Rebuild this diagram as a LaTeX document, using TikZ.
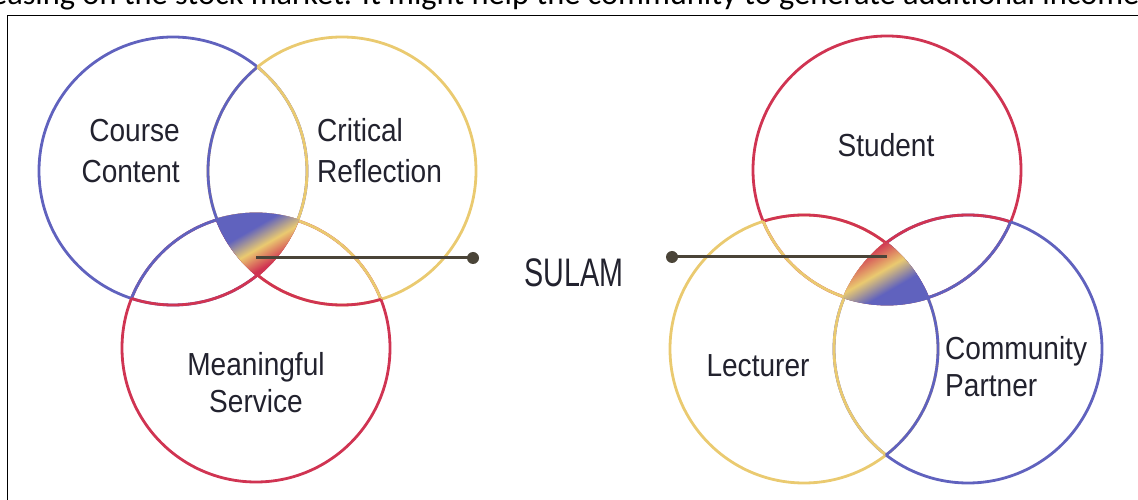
\documentclass[tikz,border=0pt]{standalone}
\usepackage{fontspec}
\newfontfamily\labelfont[FakeStretch=0.88]{Liberation Sans}
\newfontfamily\sulamfont[FakeStretch=0.72]{Liberation Sans}
\newfontfamily\pagefont{Carlito}
\definecolor{venblue}{RGB}{96,98,190}
\definecolor{venyellow}{RGB}{234,202,112}
\definecolor{venred}{RGB}{208,52,82}
\definecolor{venink}{RGB}{34,34,46}
\definecolor{linkgray}{RGB}{74,68,56}
\pgfdeclarehorizontalshading{leftcore}{100bp}{color(0bp)=(venblue); color(42bp)=(venblue); color(53bp)=(venyellow); color(64bp)=(venred); color(100bp)=(venred)}
\pgfdeclarehorizontalshading{rightcore}{100bp}{color(0bp)=(venred); color(36bp)=(venred); color(50bp)=(venyellow); color(62bp)=(venblue); color(100bp)=(venblue)}
\newcommand{\ringr}{134bp}
\newcommand{\corer}{135.4bp}

\begin{document}
\begin{tikzpicture}[x=1bp,y=-1bp,
    ring/.style={line width=2.8bp},
    venlabel/.style={font=\labelfont\fontsize{32}{41}\selectfont, text=venink, inner sep=0pt},
    venlabellow/.style={venlabel, font=\labelfont\fontsize{32}{37}\selectfont},
    coredot/.style={circle, fill=linkgray, minimum size=12bp, inner sep=0pt},
    corelink/.style={draw=linkgray, line width=3bp}]
  \useasboundingbox (0,0) rectangle (1138,500);
  \clip (0,0) rectangle (1138,500);

  % Page
  \node[font=\pagefont\fontsize{32.5}{36}\selectfont, anchor=base west, inner sep=0pt] (pageline) at (-9,5) {easing on the stock market. It might help the community to generate additional income};
  \draw[line width=1.5bp] (7.5,520) -- (7.5,15.5) -- (1160,15.5);

  % Circles
  \coordinate (course) at (173,171);
  \coordinate (reflection) at (342,171);
  \coordinate (service) at (256,348);
  \coordinate (student) at (887,170);
  \coordinate (lecturer) at (804,349);
  \coordinate (partner) at (968,349);

  \draw[ring, venblue] (course) circle[radius=\ringr];
  \draw[ring, venyellow] (reflection) circle[radius=\ringr];
  \draw[ring, venred] (service) circle[radius=\ringr];
  \draw[ring, venred] (student) circle[radius=\ringr];
  \draw[ring, venyellow] (lecturer) circle[radius=\ringr];
  \draw[ring, venblue] (partner) circle[radius=\ringr];

  % an arc inside another ring takes that ring's colour
  \foreach \ringin/\ringcol/\ringa/\ringb in {course/venblue/reflection/service,
      reflection/venyellow/course/service, service/venred/course/reflection,
      student/venred/lecturer/partner, lecturer/venyellow/student/partner,
      partner/venblue/student/lecturer} {
    \begin{scope}
      \clip (\ringin) circle[radius=\ringr];
      \draw[ring, \ringcol] (\ringa) circle[radius=\ringr] (\ringb) circle[radius=\ringr];
    \end{scope}
  }

  % Cores
  \begin{scope}
    \clip (course) circle[radius=\corer];
    \clip (reflection) circle[radius=\corer];
    \clip (service) circle[radius=\corer];
    \shade[shading=leftcore, shading angle=-60] (208,200) rectangle (304,286);
  \end{scope}
  \begin{scope}
    \clip (student) circle[radius=\corer];
    \clip (lecturer) circle[radius=\corer];
    \clip (partner) circle[radius=\corer];
    \shade[shading=rightcore, shading angle=-60] (838,228) rectangle (936,308);
  \end{scope}

  % Nodes
  \node[venlabel, align=right, anchor=east] (content) at (180,151) {Course\\Content};
  \node[venlabel, align=left, anchor=west] (critical) at (317,151) {Critical\\Reflection};
  \node[venlabellow, align=center] (meaningful) at (256,383) {Meaningful\\Service};
  \node[venlabel, anchor=base] (studentlabel) at (886,157) {Student};
  \node[venlabel, anchor=base] (lecturerlabel) at (758,377) {Lecturer};
  \node[venlabellow, align=left, anchor=west] (partnerlabel) at (945,367) {Community\\Partner};
  \node[font=\sulamfont\fontsize{40}{40}\selectfont, text=venink, anchor=base, inner sep=0pt] (sulam) at (574,287) {SULAM};

  % Links
  \coordinate (leftcore) at (256,258);
  \coordinate (rightcore) at (887,257);
  \node[coredot] (leftdot) at (473,258) {};
  \node[coredot] (rightdot) at (672,257) {};
  \draw[corelink] (leftcore) -- (leftdot.center);
  \draw[corelink] (rightcore) -- (rightdot.center);
\end{tikzpicture}
\end{document}
